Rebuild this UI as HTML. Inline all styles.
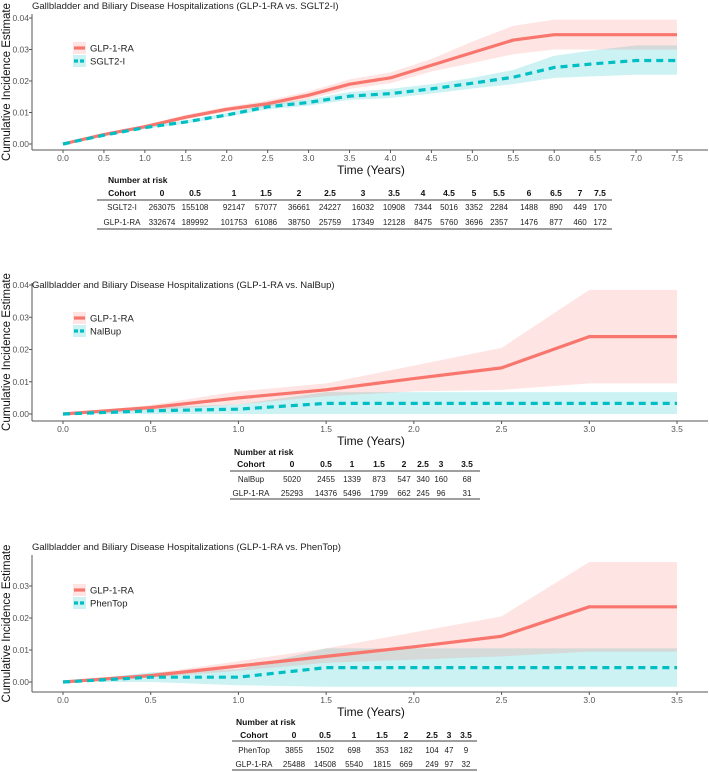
<!DOCTYPE html>
<html><head><meta charset="utf-8"><style>
body{margin:0;background:#fff;}
svg{display:block;font-family:"Liberation Sans",Arial,sans-serif;}
</style></head><body>
<svg id="root" width="709" height="772" viewBox="0 0 709 772"></svg>
<script>
// ---- Panel 1 data (GLP-1-RA vs SGLT2-I)
const p1Times=[0,0.5,1,1.5,2,2.5,3,3.5,4,4.5,5,5.5,6,6.5,7,7.5];
const p1GlpEst=[0,.003,.0055,.0085,.011,.0128,.0155,.019,.021,.025,.029,.033,.0347,.0347,.0347,.0347];
const p1GlpHi=[0,.0033,.006,.0092,.0118,.0138,.0167,.0205,.0227,.027,.0325,.0375,.0395,.0395,.0395,.0395];
const p1GlpLo=[0,.0027,.005,.0078,.0102,.0118,.0143,.0175,.0193,.023,.0257,.0285,.030,.030,.030,.030];
const p1CmpEst=[0,.0028,.0052,.007,.0092,.0118,.0132,.0152,.016,.0175,.0193,.0212,.0243,.0255,.0265,.0265];
const p1CmpHi=[0,.003,.0056,.0075,.0098,.0126,.0142,.0165,.0175,.019,.021,.0235,.028,.0298,.0313,.0313];
const p1CmpLo=[0,.0026,.0048,.0065,.0086,.011,.0122,.014,.0146,.016,.0176,.019,.021,.0215,.022,.022];
const p1Cohorts=["SGLT2-I","GLP-1-RA"];
const p1RiskCmp=[263075,155108,92147,57077,36661,24227,16032,10908,7344,5016,3352,2284,1488,890,449,170];
const p1RiskGlp=[332674,189992,101753,61086,38750,25759,17349,12128,8475,5760,3696,2357,1476,877,460,172];
// ---- Panel 2 data (GLP-1-RA vs NalBup)
const p2Times=[0,0.5,1,1.5,2,2.5,3,3.5];
const p2GlpEst=[0,.002,.005,.0075,.011,.0143,.024,.024];
const p2GlpHi=[0,.0028,.007,.0095,.015,.0205,.0385,.0385];
const p2GlpLo=[0,.0012,.003,.0055,.007,.0075,.0095,.0095];
const p2CmpEst=[0,.001,.0015,.0033,.0033,.0033,.0033,.0033];
const p2CmpHi=[0,.002,.003,.0068,.0068,.0068,.0068,.0068];
const p2CmpLo=[0,0,0,0,0,0,0,0];
const p2Cohorts=["NalBup","GLP-1-RA"];
const p2RiskCmp=[5020,2455,1339,873,547,340,160,68];
const p2RiskGlp=[25293,14376,5496,1799,662,245,96,31];
// ---- Panel 3 data (GLP-1-RA vs PhenTop)
const p3Times=[0,0.5,1,1.5,2,2.5,3,3.5];
const p3GlpEst=[0,.002,.005,.008,.011,.0143,.0235,.0235];
const p3GlpHi=[0,.0026,.0065,.0105,.0155,.0205,.0375,.0375];
const p3GlpLo=[0,.0014,.0035,.006,.007,.008,.0095,.0095];
const p3CmpEst=[0,.0015,.0015,.0045,.0045,.0045,.0045,.0045];
const p3CmpHi=[0,.003,.004,.0105,.0105,.0105,.0105,.0105];
const p3CmpLo=[0,0,-.001,-.0015,-.0015,-.0015,-.0015,-.0015];
const p3Cohorts=["PhenTop","GLP-1-RA"];
const p3RiskCmp=[3855,1502,698,353,182,104,47,9];
const p3RiskGlp=[25488,14508,5540,1815,669,249,97,32];

const NS="http://www.w3.org/2000/svg";
const root=document.getElementById('root');
function mk(tag,attrs,parent,text){const e=document.createElementNS(NS,tag);for(const k in attrs)e.setAttribute(k,attrs[k]);if(text!==undefined)e.textContent=text;(parent||root).appendChild(e);return e;}

function panel(cfg){
  const g=mk('g',{});
  
  
  const x0=63,x1=677,tMax=cfg.times[cfg.times.length-1];
  const xs=t=>x0+(x1-x0)*t/tMax;
  const ys=v=>cfg.y0-v*cfg.ppu;
  const ttl=mk('text',{x:32,y:cfg.titleY,'font-size':9.5,fill:'#222'},g,cfg.title);
  
  
  const ya=mk('line',{x1:32,y1:cfg.axisTop,x2:32,y2:cfg.axisY,stroke:'#555','stroke-width':1},g);
  
  
  cfg.yTicks.forEach(v=>{
    mk('line',{x1:29,x2:32,y1:ys(v),y2:ys(v),stroke:'#555'},g);
    const t=mk('text',{x:29,y:ys(v)+3,'font-size':8.5,fill:'#555','text-anchor':'end'},g,v.toFixed(2));
    
    
  });
  const yt=mk('text',{transform:`translate(10,${(cfg.axisTop+cfg.axisY)/2}) rotate(-90)`,'font-size':11.5,fill:'#111','text-anchor':'middle'},g,'Cumulative Incidence Estimate');
  
  
  const xa=mk('line',{x1:32,y1:cfg.axisY,x2:708,y2:cfg.axisY,stroke:'#555','stroke-width':1},g);
  
  
  cfg.xTicks.forEach(v=>{
    mk('line',{x1:xs(v),x2:xs(v),y1:cfg.axisY,y2:cfg.axisY+3,stroke:'#555'},g);
    const t=mk('text',{x:xs(v),y:cfg.axisY+11,'font-size':8.5,fill:'#555','text-anchor':'middle'},g,v.toFixed(1));
    
    
  });
  const xt=mk('text',{x:371,y:cfg.axisY+24,'font-size':12,fill:'#111','text-anchor':'middle'},g,'Time (Years)');
  
  
  const series=[
    {est:cfg.cmpEst,hi:cfg.cmpHi,lo:cfg.cmpLo,col:'#00BFC4',dash:'7,5',nm:'comparator'},
    {est:cfg.glpEst,hi:cfg.glpHi,lo:cfg.glpLo,col:'#F8766D',dash:null,nm:'glp1ra'}];
  series.forEach(s=>{
    let d='M'+cfg.times.map((t,i)=>xs(t)+','+ys(s.hi[i])).join('L');
    d+='L'+cfg.times.slice().reverse().map((t,j)=>{const i=cfg.times.length-1-j;return xs(t)+','+ys(s.lo[i]);}).join('L')+'Z';
    const b=mk('path',{d:d,fill:s.col,'fill-opacity':0.2,stroke:'none'},g);
    
    
  });
  series.slice().reverse().forEach(s=>{
    const pts=cfg.times.map((t,i)=>xs(t)+','+ys(s.est[i])).join(' ');
    const a={points:pts,fill:'none',stroke:s.col,'stroke-width':3.2,'stroke-linejoin':'round'};
    if(s.dash)a['stroke-dasharray']=s.dash;
    const l=mk('polyline',a,g);
    
    
  });
  const lg=mk('g',{},g);
  
  
  [['GLP-1-RA','#F8766D',null,cfg.legY],[cfg.cohorts[0],'#00BFC4','4,2',cfg.legY+13]].forEach(e=>{
    mk('rect',{x:73,y:e[3]-6,width:13,height:12,fill:e[1],'fill-opacity':0.2},lg);
    const a={x1:74,x2:85,y1:e[3],y2:e[3],stroke:e[1],'stroke-width':3.2};
    if(e[2])a['stroke-dasharray']=e[2];
    mk('line',a,lg);
    const t=mk('text',{x:90,y:e[3]+3.5,'font-size':9.5,fill:'#222'},lg,e[0]);
    
    
  });
  const tb=mk('g',{},g);
  
  
  const T=cfg.table;
  mk('text',{x:T.nx,y:T.ny,'font-size':8.5,'font-weight':'bold',fill:'#111'},tb,'Number at risk');
  mk('text',{x:T.cohortX,y:T.hy,'font-size':8.5,'font-weight':'bold',fill:'#111','text-anchor':'middle'},tb,'Cohort');
  cfg.times.forEach((t,i)=>{
    mk('text',{x:T.cols[i],y:T.hy,'font-size':8.5,'font-weight':'bold',fill:'#111','text-anchor':'middle'},tb,String(t));
  });
  mk('line',{x1:T.lx0,x2:T.lx1,y1:T.l1,y2:T.l1,stroke:'#666','stroke-width':1.2},tb);
  mk('line',{x1:T.lx0,x2:T.lx1,y1:T.l2,y2:T.l2,stroke:'#666','stroke-width':1.2},tb);
  [[cfg.cohorts[0],cfg.riskCmp,T.r1],[cfg.cohorts[1],cfg.riskGlp,T.r2]].forEach(r=>{
    mk('text',{x:T.cohortX,y:r[2],'font-size':8,fill:'#222','text-anchor':'middle'},tb,r[0]);
    r[1].forEach((v,i)=>mk('text',{x:T.cols[i],y:r[2],'font-size':8,fill:'#222','text-anchor':'middle'},tb,String(v)));
  });
}

panel({name:'panel-sglt2',title:'Gallbladder and Biliary Disease Hospitalizations (GLP-1-RA vs. SGLT2-I)',titleY:9,
  times:p1Times,glpEst:p1GlpEst,glpHi:p1GlpHi,glpLo:p1GlpLo,cmpEst:p1CmpEst,cmpHi:p1CmpHi,cmpLo:p1CmpLo,
  cohorts:p1Cohorts,riskCmp:p1RiskCmp,riskGlp:p1RiskGlp,
  y0:144,ppu:3150,axisTop:14,axisY:150,yTicks:[0,.01,.02,.03,.04],xTicks:p1Times,legY:48,
  table:{nx:108,ny:183,hy:196,cohortX:122,lx0:97,lx1:612,l1:200,l2:229,r1:210,r2:225,
    cols:[162,195,234,266,299,330,363,394,423,449,474,499,529,556,580,600]}});
panel({name:'panel-nalbup',title:'Gallbladder and Biliary Disease Hospitalizations (GLP-1-RA vs. NalBup)',titleY:288,
  times:p2Times,glpEst:p2GlpEst,glpHi:p2GlpHi,glpLo:p2GlpLo,cmpEst:p2CmpEst,cmpHi:p2CmpHi,cmpLo:p2CmpLo,
  cohorts:p2Cohorts,riskCmp:p2RiskCmp,riskGlp:p2RiskGlp,
  y0:414,ppu:3225,axisTop:283,axisY:421,yTicks:[0,.01,.02,.03,.04],xTicks:p2Times,legY:318,
  table:{nx:234,ny:455,hy:467,cohortX:251,lx0:230,lx1:480,l1:471,l2:499,r1:482,r2:496,
    cols:[292,326,352,379,404,423,441,467]}});
panel({name:'panel-phentop',title:'Gallbladder and Biliary Disease Hospitalizations (GLP-1-RA vs. PhenTop)',titleY:550,
  times:p3Times,glpEst:p3GlpEst,glpHi:p3GlpHi,glpLo:p3GlpLo,cmpEst:p3CmpEst,cmpHi:p3CmpHi,cmpLo:p3CmpLo,
  cohorts:p3Cohorts,riskCmp:p3RiskCmp,riskGlp:p3RiskGlp,
  y0:682,ppu:3200,axisTop:555,axisY:692,yTicks:[0,.01,.02,.03],xTicks:p3Times,legY:590,
  table:{nx:236,ny:725,hy:738,cohortX:254,lx0:232,lx1:477,l1:741,l2:770,r1:753,r2:767,
    cols:[294,325,354,382,406,432,449,466]}});
</script>
</body></html>
